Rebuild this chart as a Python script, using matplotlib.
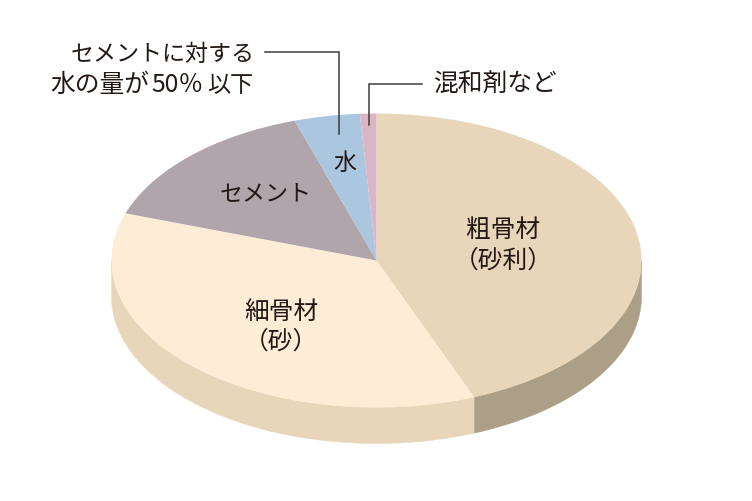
import numpy as np
import matplotlib
matplotlib.use("Agg")
import matplotlib.pyplot as plt

plt.rcParams['font.family'] = ['Noto Sans CJK JP', 'DejaVu Sans']

names = ["粗骨材", "細骨材", "セメント", "水", "混和剤"]
shares = [44.0, 36.2, 14.8, 4.0, 1.0]
top_colors = ["#e7d6b9", "#fdedd6", "#b0a5aa", "#abc7e0", "#d9b5c6"]
side_colors = ["#ac9f87", "#e7d6b9", "#e7d6b9", "#e7d6b9", "#e7d6b9"]

W, H = 752, 502
CX, CY, RX, RY, DEPTH = 376.5, 261.5, 265, 147, 36

fig = plt.figure(figsize=(W / 100, H / 100), dpi=100)
ax = fig.add_axes([0, 0, 1, 1])

# Side wall: visible lower half of each slice, extruded downward
d = DEPTH / RY
edges = np.concatenate([[0], np.cumsum(shares)]) / sum(shares) * 360
for i, col in enumerate(side_colors):
    a0, a1 = edges[i], edges[i + 1]   # clockwise from 12 o'clock
    a0 = max(a0, 90); a1 = min(a1, 270)
    if a1 <= a0:
        continue
    t = np.radians(np.linspace(a0, a1, 200))
    xs, ys = np.sin(t), np.cos(t)
    ax.fill(np.r_[xs, xs[::-1]], np.r_[ys, ys[::-1] - d], color=col, lw=0.3, zorder=1)

ax.pie(shares, colors=top_colors, startangle=90, counterclock=False, radius=1,
       center=(0, 0), wedgeprops=dict(linewidth=0, zorder=2), frame=False)
ax.set_aspect('auto')
ax.set_xlim(-CX / RX, (W - CX) / RX)
ax.set_ylim((CY - H) / RY, CY / RY)
ax.axis('off')

# overlay in pixel coordinates
ov = fig.add_axes([0, 0, 1, 1], facecolor='none')
ov.set_xlim(0, W); ov.set_ylim(H, 0); ov.axis('off')
TC = "#231815"
fs = 16.6
kw = dict(fontsize=fs, color=TC, fontweight='regular')
big = dict(fontsize=17.8, color=TC, fontweight='regular')
ov.text(503, 230, "粗骨材", ha='center', va='center', **big)
ov.text(503, 261, "（砂利）", ha='center', va='center', **big)
ov.text(281, 312, "細骨材", ha='center', va='center', **big)
ov.text(281, 342, "（砂）", ha='center', va='center', **big)
ov.text(266, 194, "セメント", ha='center', va='center', **kw)
ov.text(345, 163, "水", ha='center', va='center', **kw)
ov.text(255, 54, "セメントに対する", ha='right', va='center', **kw)
ov.text(50, 85, "水の量が", ha='left', va='center', **big)
ov.text(177, 85, "50％", ha='center', va='center', **big)
ov.text(253, 85, "以下", ha='right', va='center', **kw)
ov.text(433, 85, "混和剤など", ha='left', va='center', fontsize=17.8, color=TC)
ov.plot([265, 339, 339], [53, 53, 135], color="#3e3a39", lw=1.1, solid_joinstyle='miter')
ov.plot([422, 369, 369], [85, 85, 126], color="#3e3a39", lw=1.1, solid_joinstyle='miter')

fig.savefig("out.png", dpi=100, facecolor='white')
